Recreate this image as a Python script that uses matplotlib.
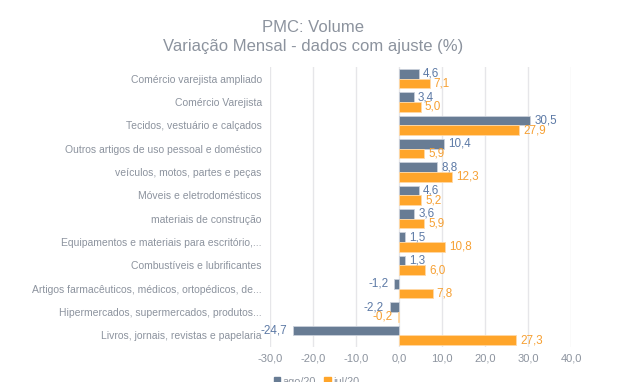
import numpy as np
import matplotlib.pyplot as plt
from matplotlib.patches import Patch

plt.rcParams['font.family'] = ['Liberation Sans', 'DejaVu Sans']

# categories, top to bottom
categorias = [
    "Comércio varejista ampliado",
    "Comércio Varejista",
    "Tecidos, vestuário e calçados",
    "Outros artigos de uso pessoal e doméstico",
    "veículos, motos, partes e peças",
    "Móveis e eletrodomésticos",
    "materiais de construção",
    "Equipamentos e materiais para escritório,...",
    "Combustíveis e lubrificantes",
    "Artigos farmacêuticos, médicos, ortopédicos, de...",
    "Hipermercados, supermercados, produtos...",
    "Livros, jornais, revistas e papelaria",
]
ago20 = [4.6, 3.4, 30.5, 10.4, 8.8, 4.6, 3.6, 1.5, 1.3, -1.2, -2.2, -24.7]
jul20 = [7.1, 5.0, 27.9, 5.9, 12.3, 5.2, 5.9, 10.8, 6.0, 7.8, -0.2, 27.3]
xticks = [-30, -20, -10, 0, 10, 20, 30, 40]

c_ago = "#687c94"
c_jul = "#ffa52a"
c_ago_txt = "#5d7aa6"
c_jul_txt = "#f6a033"
c_txt = "#8c939e"

fig = plt.figure(figsize=(6.26, 3.82), dpi=100)
ax = fig.add_axes([270/626, 1-347/382, 301/626, 280/382])

y = np.arange(len(categorias))
h = 0.41
ax.barh(y - h/2, ago20, height=h, color=c_ago, edgecolor="#c9d0da", linewidth=0.6, zorder=3)
ax.barh(y + h/2, jul20, height=h, color=c_jul, edgecolor="#ffd9a6", linewidth=0.6, zorder=3)

def fmt(v):
    return f"{v:.1f}".replace(".", ",")

# value labels: right of positive bars, left of negative ones
for vals, off, col in [(ago20, -h/2, c_ago_txt), (jul20, h/2, c_jul_txt)]:
    for yy, v in zip(y + off, vals):
        if v >= 0:
            ax.annotate(fmt(v), (v, yy), xytext=(3, 0), textcoords="offset points",
                        ha="left", va="center", fontsize=8.4, color=col)
        else:
            ax.annotate(fmt(v), (v, yy), xytext=(-4, 0), textcoords="offset points",
                        ha="right", va="center", fontsize=8.4, color=col)

ax.set_xlim(-30, 40)
ax.set_ylim(len(categorias) - 0.5, -0.5)
ax.set_xticks(xticks)
ax.set_xticklabels([fmt(t) for t in xticks])
ax.set_yticks(y)
ax.set_yticklabels(categorias)
ax.tick_params(axis="x", length=0, labelsize=8, labelcolor=c_txt, pad=5)
ax.tick_params(axis="y", length=0, labelsize=7.5, labelcolor=c_txt, pad=6)
ax.grid(axis="x", color="#e6e6e9", linewidth=1, zorder=0)
for s in ax.spines.values():
    s.set_visible(False)

fig.text(0.5, 1-27/382, "PMC: Volume", ha="center", va="center", fontsize=12, color=c_txt)
fig.text(0.5, 1-47/382, "Variação Mensal - dados com ajuste (%)", ha="center", va="center",
         fontsize=12, color=c_txt)

handles = [Patch(color=c_ago), Patch(color=c_jul)]
fig.legend(handles, ["ago/20", "jul/20"], loc="upper left", bbox_to_anchor=(264/626, 1-367/382),
           ncol=2, frameon=False, fontsize=7.8, labelcolor=c_txt, handlelength=0.6,
           handleheight=0.6, handletextpad=0.2, columnspacing=0.8)

fig.savefig("out.png", dpi=100)
